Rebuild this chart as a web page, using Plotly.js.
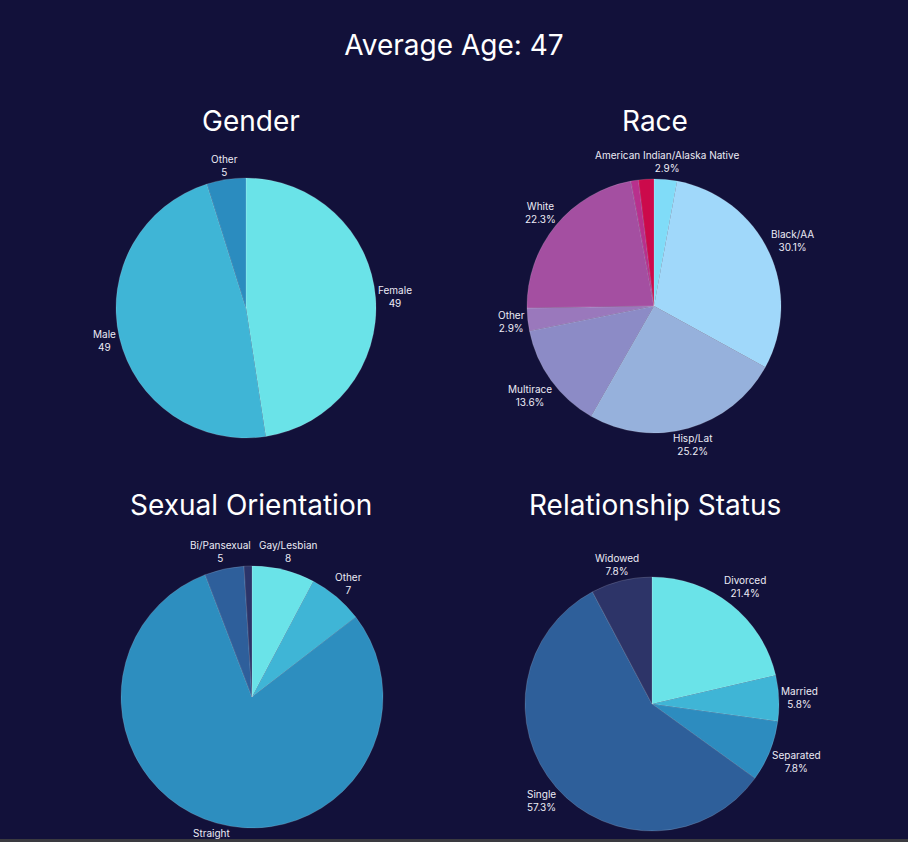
<!DOCTYPE html>
<html>
<head>
<meta charset="utf-8">
<script src="https://cdn.plot.ly/plotly-3.0.1.min.js"></script>
<style>html,body{margin:0;padding:0;background:#12113a;}#chart{width:908px;height:842px;}</style>
</head>
<body>
<div id="chart"></div>
<script>
// ---- data ----
const genderLabels = ["Female", "Male", "Other"];
const genderValues = [49, 49, 5];
const genderColors = ["#6ae3e8", "#3fb5d6", "#2b8cbf"];

const raceLabels = ["American Indian/Alaska Native", "Black/AA", "Hisp/Lat", "Multirace", "Other", "White", "Native Hawaiian/Pacific Islander", "Asian"];
const raceValues = [3, 31, 26, 14, 3, 23, 1, 2];
const raceShowLabel = [true, true, true, true, true, true, false, false];
const raceColors = ["#80dcf8", "#a0d8fa", "#96b1dc", "#8c8bc6", "#9a78bc", "#a44fa1", "#b8308d", "#cc0a4b"];

const orientLabels = ["Gay/Lesbian", "Other", "Straight", "Bi/Pansexual", "Asexual"];
const orientValues = [8, 7, 82, 5, 1];
const orientShowLabel = [true, true, true, true, false];
const orientColors = ["#6ae3e8", "#3fb5d6", "#2d8ebf", "#2e5f9b", "#2b3469"];

const relLabels = ["Divorced", "Married", "Separated", "Single", "Widowed"];
const relValues = [22, 6, 8, 59, 8];
const relColors = ["#6ae3e8", "#3fb5d6", "#2d8cbf", "#2e5f9a", "#2d3468"];

const mainTitle = "Average Age: 47";
const subTitles = ["Gender", "Race", "Sexual Orientation", "Relationship Status"];

// ---- helpers ----
const FONT = "Inter, 'Noto Sans', sans-serif";
const LABEL_SIZE = 10;
const W = 908, H = 842;
function sum(a){return a.reduce((s,v)=>s+v,0);}
function valueText(labels, values, show){
  return labels.map((l,i)=> (show && !show[i]) ? "" : l + "<br>" + values[i]);
}
function pctText(labels, values, show){
  const t = sum(values);
  return labels.map((l,i)=> (show && !show[i]) ? "" : l + "<br>" + (values[i]/t*100).toFixed(1) + "%");
}
function dom(g){
  return {x:[(g.cx-g.r)/W, (g.cx+g.r)/W], y:[1-(g.cy+g.r)/H, 1-(g.cy-g.r)/H]};
}
const ctx = document.createElement("canvas").getContext("2d");
ctx.font = LABEL_SIZE + "px Inter";
function textWidth(t){
  return Math.max.apply(null, t.split("<br>").map(s=>ctx.measureText(s).width));
}
// outside labels centred on each slice's mid-angle (clockwise from 12 o'clock)
function sliceLabels(values, texts, g){
  const total = sum(values);
  let cum = 0;
  const out = [];
  values.forEach((v,i)=>{
    const th = 2*Math.PI*(cum + v/2)/total;
    cum += v;
    if(!texts[i]) return;
    const s = Math.sin(th), c = Math.cos(th);
    const hw = textWidth(texts[i])/2, hh = 10;
    const d = g.r + 2 + Math.abs(s)*hw + Math.abs(c)*hh;
    const px = g.cx + d*s, py = g.cy - d*c;
    out.push({
      text: texts[i], xref: "paper", yref: "paper",
      x: px/W, y: 1 - py/H, xanchor: "center", yanchor: "middle",
      showarrow: false, align: "center",
      font: {family: FONT, size: LABEL_SIZE, color: "#ecebf5"}
    });
  });
  return out;
}

const geo = [
  {cx: 246, cy: 308, r: 130},
  {cx: 654, cy: 306, r: 127},
  {cx: 252, cy: 697, r: 131},
  {cx: 652, cy: 704, r: 127}
];

const base = {
  type: "pie",
  sort: false,
  direction: "clockwise",
  rotation: 0,
  textinfo: "none",
  hoverinfo: "label+value+percent",
  showlegend: false
};
const lineStyle = {color: "rgba(255,255,255,0.25)", width: 0.6};

const data = [
  Object.assign({}, base, {labels: genderLabels, values: genderValues,
    marker: {colors: genderColors, line: lineStyle}, domain: dom(geo[0])}),
  Object.assign({}, base, {labels: raceLabels, values: raceValues,
    marker: {colors: raceColors, line: lineStyle}, domain: dom(geo[1])}),
  Object.assign({}, base, {labels: orientLabels, values: orientValues,
    marker: {colors: orientColors, line: lineStyle}, domain: dom(geo[2])}),
  Object.assign({}, base, {labels: relLabels, values: relValues,
    marker: {colors: relColors, line: lineStyle}, domain: dom(geo[3])})
];

const labelAnns = [].concat(
  sliceLabels(genderValues, valueText(genderLabels, genderValues), geo[0]),
  sliceLabels(raceValues, pctText(raceLabels, raceValues, raceShowLabel), geo[1]),
  sliceLabels(orientValues, valueText(orientLabels, orientValues, orientShowLabel), geo[2]),
  sliceLabels(relValues, pctText(relLabels, relValues), geo[3])
);

const titleFont = {family: FONT, size: 28, color: "#ffffff"};
const subPos = [[251, 121], [655, 121], [251, 505], [655, 505]];
const titleAnns = subTitles.map((t,i)=>({
  text: t, xref: "paper", yref: "paper",
  x: subPos[i][0]/W, y: 1 - subPos[i][1]/H,
  xanchor: "center", yanchor: "middle", showarrow: false,
  font: titleFont
}));

const layout = {
  width: W, height: H,
  margin: {l:0, r:0, t:0, b:0},
  paper_bgcolor: "#12113a",
  plot_bgcolor: "#12113a",
  title: {text: mainTitle, x: 0.5, xanchor: "center", y: 1 - 45/H, yanchor: "middle",
          font: {family: FONT, size: 28, color: "#ffffff"}},
  annotations: titleAnns.concat(labelAnns),
  shapes: [{type: "rect", xref: "paper", yref: "paper", x0: 0, x1: 1, y0: 0, y1: 3/H,
            fillcolor: "#3a3a40", line: {width: 0}}]
};

Plotly.newPlot("chart", data, layout, {displayModeBar: false, staticPlot: true});
</script>
</body>
</html>
